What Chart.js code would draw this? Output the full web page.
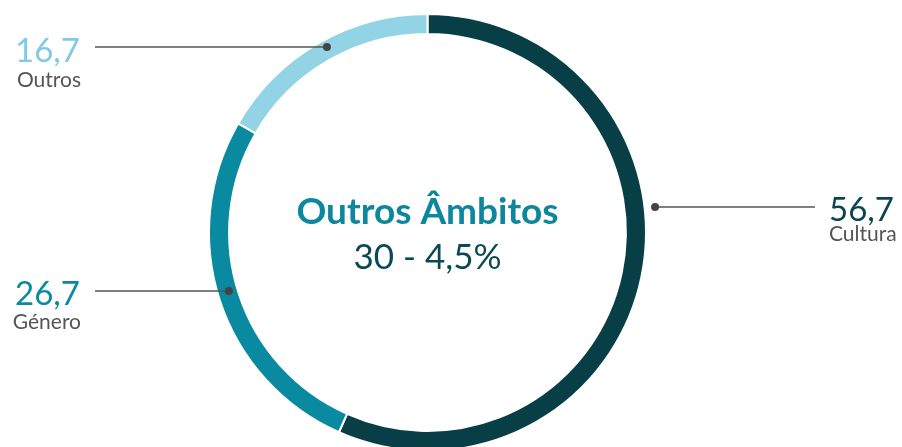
<!DOCTYPE html>
<html>
<head>
<meta charset="utf-8">
<script src="https://cdn.jsdelivr.net/npm/chart.js@4"></script>
<style>
  html, body { margin: 0; padding: 0; background: #fff; overflow: hidden; }
  #wrap { width: 902px; height: 447px; overflow: hidden; }
</style>
</head>
<body>
<div id="wrap"><canvas id="c" width="902" height="465"></canvas></div>
<script>
const categories = ['Cultura', 'Género', 'Outros'];
const shares = [56.7, 26.7, 16.7];
const sliceColors = ['#083e45', '#0a8aa0', '#93d3e6'];
const valueColors = ['#0b4550', '#0a8aa0', '#7fcbe6'];
const centerTitle = 'Outros Âmbitos';
const centerSubtitle = '30 - 4,5%';

// callout placement: side of the ring, label anchor and leader line row
const callouts = [
  { side: 'right', textX: 829, lineY: 207, numY: 221, nameY: 241, dotR: 229, lineEnd: 815 },
  { side: 'left',  textX: 80,  lineY: 291, numY: 305, nameY: 329, dotR: 207, lineEnd: 95 },
  { side: 'left',  textX: 80,  lineY: 47,  numY: 62,  nameY: 87,  dotR: 211, lineEnd: 95 }
];

const fmt = v => v.toFixed(1).replace('.', ',');

const calloutPlugin = {
  id: 'callouts',
  afterDraw(chart) {
    const ctx = chart.ctx;
    const arc = chart.getDatasetMeta(0).data[0];
    const cx = arc.x, cy = arc.y;
    ctx.save();

    // centre caption
    ctx.textAlign = 'center';
    ctx.textBaseline = 'alphabetic';
    ctx.fillStyle = '#0d879d';
    ctx.font = 'bold 37px Lato';
    ctx.fillText(centerTitle, cx, 224);
    ctx.fillStyle = '#0b4a55';
    ctx.font = '35px Lato';
    ctx.fillText(centerSubtitle, cx, 269);

    categories.forEach((name, i) => {
      const c = callouts[i];
      const dy = c.lineY - cy;
      const dx = Math.sqrt(Math.max(c.dotR * c.dotR - dy * dy, 0));
      const dotX = c.side === 'right' ? cx + dx : cx - dx;

      ctx.strokeStyle = '#555';
      ctx.lineWidth = 1.5;
      ctx.beginPath();
      ctx.moveTo(dotX, c.lineY);
      ctx.lineTo(c.lineEnd, c.lineY);
      ctx.stroke();

      ctx.fillStyle = '#444';
      ctx.beginPath();
      ctx.arc(dotX, c.lineY, 4, 0, Math.PI * 2);
      ctx.fill();

      ctx.textAlign = c.side === 'right' ? 'left' : 'right';
      ctx.fillStyle = valueColors[i];
      ctx.font = '33px Lato';
      ctx.fillText(fmt(shares[i]), c.textX, c.numY);
      ctx.fillStyle = '#555';
      ctx.font = '21px Lato';
      ctx.fillText(name, c.textX + (c.side === 'right' ? 0 : 1), c.nameY);
    });
    ctx.restore();
  }
};

new Chart(document.getElementById('c'), {
  type: 'doughnut',
  data: {
    labels: categories,
    datasets: [{
      data: shares,
      backgroundColor: sliceColors,
      borderColor: '#ffffff',
      borderWidth: 2,
      hoverOffset: 0
    }]
  },
  options: {
    responsive: false,
    animation: false,
    devicePixelRatio: 1,
    cutout: '90.8%',
    layout: { padding: { left: 208, right: 255, top: 13, bottom: 13 } },
    plugins: { legend: { display: false }, tooltip: { enabled: false } }
  },
  plugins: [calloutPlugin]
});
</script>
</body>
</html>
